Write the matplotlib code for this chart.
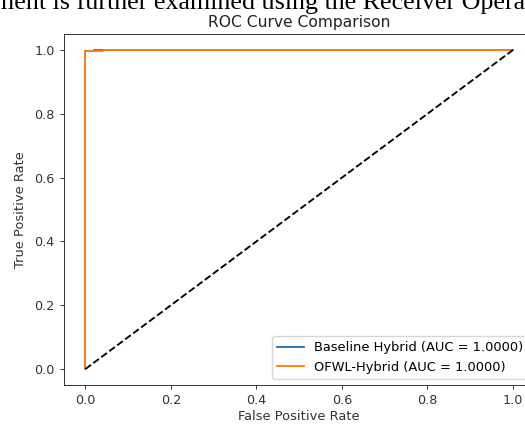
import matplotlib
matplotlib.use("Agg")
import matplotlib.pyplot as plt

# Data
baseline_fpr = [0.0, 0.0, 0.019, 0.019, 1.0]
baseline_tpr = [0.0, 0.997, 0.997, 1.0, 1.0]
ofwl_fpr = [0.0, 0.0, 0.042, 0.042, 1.0]
ofwl_tpr = [0.0, 0.997, 0.997, 1.0, 1.0]
baseline_label = "Baseline Hybrid (AUC = 1.0000)"
ofwl_label = "OFWL-Hybrid (AUC = 1.0000)"
chance = [0.0, 1.0]
xticks = [0.0, 0.2, 0.4, 0.6, 0.8, 1.0]
yticks = [0.0, 0.2, 0.4, 0.6, 0.8, 1.0]

fig = plt.figure(figsize=(5.25, 4.25), dpi=100)
W, H = 525, 425
ax = fig.add_axes([64 / W, 40 / H, (534.4 - 64) / W, (385 - 34) / H])

lw = 1.35
ax.plot(baseline_fpr, baseline_tpr, color="#1f77b4", lw=lw, label=baseline_label)
ax.plot(ofwl_fpr, ofwl_tpr, color="#ff7f0e", lw=lw, label=ofwl_label)
ax.plot(chance, chance, color="black", ls="--", lw=lw)

ax.set_xlim(-0.05, 1.05)
ax.set_ylim(-0.05, 1.05)
ax.set_xticks(xticks)
ax.set_yticks(yticks)
ax.set_xticklabels([f"{t:.1f}" for t in xticks])
ax.set_yticklabels([f"{t:.1f}" for t in yticks])
ax.tick_params(labelsize=9.2, length=3.2, width=0.7, colors="#333333")
for s in ax.spines.values():
    s.set_linewidth(0.7)
    s.set_color("#333333")

ax.set_xlabel("False Positive Rate", fontsize=9.4, color="#333333", labelpad=2)
ax.set_ylabel("True Positive Rate", fontsize=9.4, color="#333333", labelpad=5)
ax.set_title("ROC Curve Comparison", fontsize=11.2, color="#222222", pad=5)
ax.legend(loc="lower right", fontsize=9.4, framealpha=0.8, edgecolor="#cccccc",
          borderaxespad=0.45, handlelength=2.0)

fig.text(-6 / W, 1 - 9 / H, "ment is further examined using the Receiver Operating Characteristic",
         family="Liberation Serif", fontsize=18.7, color="black", va="baseline", ha="left")

fig.savefig("out.png", dpi=100)
